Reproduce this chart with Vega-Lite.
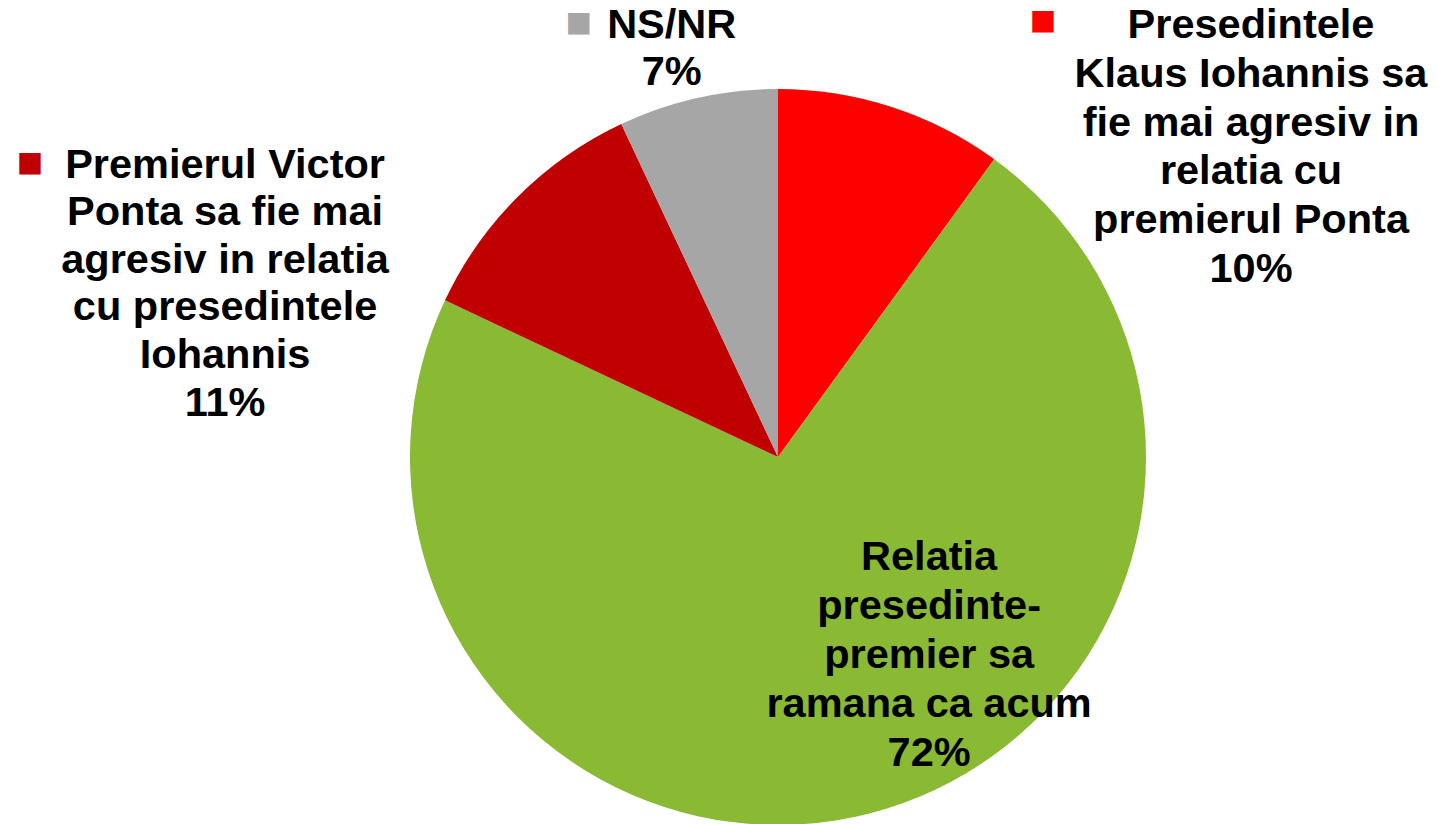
{
  "$schema": "https://vega.github.io/schema/vega-lite/v6.json",
  "autosize": "none",
  "padding": 0,
  "width": 1556,
  "height": 914,
  "background": "white",
  "config": {"view": {"stroke": null}},
  "data": {"values": [
    {"cat": "Presedintele Klaus Iohannis sa fie mai agresiv in relatia cu premierul Ponta", "label": "Presedintele\nKlaus Iohannis sa\nfie mai agresiv in\nrelatia cu\npremierul Ponta\n10%", "value": 10, "ord": 1},
    {"cat": "Relatia presedinte-premier sa ramana ca acum", "label": "Relatia\npresedinte-\npremier sa\nramana ca acum\n72%", "value": 72, "ord": 2},
    {"cat": "Premierul Victor Ponta sa fie mai agresiv in relatia cu presedintele Iohannis", "label": "Premierul Victor\nPonta sa fie mai\nagresiv in relatia\ncu presedintele\nIohannis\n11%", "value": 11, "ord": 3},
    {"cat": "NS/NR", "label": "NS/NR\n7%", "value": 7, "ord": 4}
  ]},
  "transform": [
    {"stack": "value", "groupby": [], "sort": [{"field": "ord", "order": "ascending"}], "as": ["v0", "v1"]}
  ],
  "encoding": {
    "theta": {"field": "v0", "type": "quantitative", "scale": {"domain": [0, 100], "range": [0, 6.283185307179586]}},
    "color": {"field": "cat", "type": "nominal", "legend": null, "scale": {
      "domain": ["Presedintele Klaus Iohannis sa fie mai agresiv in relatia cu premierul Ponta", "Relatia presedinte-premier sa ramana ca acum", "Premierul Victor Ponta sa fie mai agresiv in relatia cu presedintele Iohannis", "NS/NR"],
      "range": ["#FF0000", "#8AB933", "#C00000", "#A6A6A6"]}}
  },
  "layer": [
    {
      "mark": {"type": "arc", "outerRadius": 368, "stroke": null},
      "encoding": {"theta2": {"field": "v1"}}
    },
    {
      "transform": [{"filter": "datum.ord == 1"}],
      "mark": {"type": "text", "radius": 400, "dx": 473, "dy": -31, "font": "Liberation Sans", "fontWeight": "bold", "fontSize": 41.5, "lineHeight": 48.8, "lineBreak": "\n", "align": "center", "baseline": "middle"},
      "encoding": {"text": {"field": "label"}, "color": {"value": "black"}}
    },
    {
      "transform": [{"filter": "datum.ord == 2"}],
      "mark": {"type": "text", "radius": 400, "dx": -84, "dy": 425, "font": "Liberation Sans", "fontWeight": "bold", "fontSize": 41.5, "lineHeight": 49, "lineBreak": "\n", "align": "center", "baseline": "middle"},
      "encoding": {"text": {"field": "label"}, "color": {"value": "black"}}
    },
    {
      "transform": [{"filter": "datum.ord == 3"}],
      "mark": {"type": "text", "radius": 400, "dx": -191, "dy": -121, "font": "Liberation Sans", "fontWeight": "bold", "fontSize": 41.5, "lineHeight": 47.6, "lineBreak": "\n", "align": "center", "baseline": "middle"},
      "encoding": {"text": {"field": "label"}, "color": {"value": "black"}}
    },
    {
      "transform": [{"filter": "datum.ord == 4"}],
      "mark": {"type": "text", "radius": 400, "dx": 64, "dy": -69, "font": "Liberation Sans", "fontWeight": "bold", "fontSize": 41.5, "lineHeight": 47, "lineBreak": "\n", "align": "center", "baseline": "middle"},
      "encoding": {"text": {"field": "label"}, "color": {"value": "black"}}
    },
    {
      "transform": [{"filter": "datum.ord == 1"}],
      "mark": {"type": "text", "radius": 400, "dx": 265, "dy": -36, "font": "DejaVu Sans", "fontSize": 28, "align": "center", "baseline": "middle"},
      "encoding": {"text": {"value": "■"}}
    },
    {
      "transform": [{"filter": "datum.ord == 3"}],
      "mark": {"type": "text", "radius": 400, "dx": -386, "dy": -124, "font": "DejaVu Sans", "fontSize": 28, "align": "center", "baseline": "middle"},
      "encoding": {"text": {"value": "■"}}
    },
    {
      "transform": [{"filter": "datum.ord == 4"}],
      "mark": {"type": "text", "radius": 400, "dx": -29, "dy": -72, "font": "DejaVu Sans", "fontSize": 28, "align": "center", "baseline": "middle"},
      "encoding": {"text": {"value": "■"}}
    }
  ]
}
